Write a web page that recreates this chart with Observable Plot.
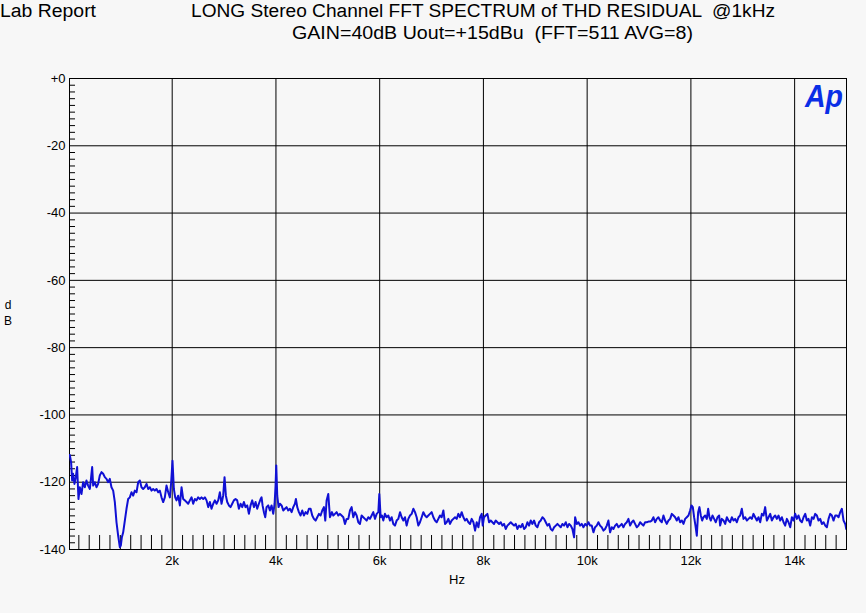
<!DOCTYPE html>
<html>
<head>
<meta charset="utf-8">
<script src="https://cdn.jsdelivr.net/npm/d3@7"></script>
<script src="https://cdn.jsdelivr.net/npm/@observablehq/plot@0.6"></script>
<style>
  html, body { margin: 0; padding: 0; background: #f7f7f7; }
  #chart { position: relative; width: 866px; height: 613px; }
  svg { display: block; }
</style>
</head>
<body>
<div id="chart"></div>
<script>
const titleLeft = "Lab Report";
const titleLine1 = "LONG Stereo Channel FFT SPECTRUM of THD RESIDUAL  @1kHz";
const titleLine2 = "GAIN=40dB Uout=+15dBu  (FFT=511 AVG=8)";
const xLabel = "Hz";
const yLabel = ["d", "B"];
const logoText = "Ap";

const yTicks = [0, -20, -40, -60, -80, -100, -120, -140];
const yTickLabels = ["+0", "-20", "-40", "-60", "-80", "-100", "-120", "-140"];
const xTicks = [2000, 4000, 6000, 8000, 10000, 12000, 14000];
const xTickLabels = ["2k", "4k", "6k", "8k", "10k", "12k", "14k"];

const freqs = [
26,51,71,90,116,141,167,193,219,251,283,315,347,379,412,437,457,476,508,540,572,604,637,669,701,733,765,797,829,862,894,926,958,990,1010,1029,1055,1087,1119,1151,1183,1215,1247,1280,1312,1344,1376,1408,1440,1472,1505,1537,1569,1601,1633,1665,1697,1730,1762,1794,1826,1858,1890,1923,1955,1980,2006,2032,2058,2083,2115,2148,2180,2212,2244,2276,2308,2341,2373,2405,2437,2469,2501,
2533,2565,2598,2630,2662,2694,2726,2758,2791,2823,2855,2887,2919,2951,2983,3009,3035,3061,3093,3125,3157,3189,3221,3253,3286,3318,3350,3382,3414,3446,3479,3511,3543,3575,3607,3639,3671,3704,3723,3742,3768,3794,3819,3851,3884,3916,3948,3974,3993,4006,4025,4051,4077,4109,4141,4173,4205,4237,4269,4302,4334,4366,4385,4411,4443,4475,4507,4539,4572,4604,4636,4668,4700,4732,4765,4797,4829,4861,4893,4925,4951,4977,5009,5041,
5054,5080,5106,5138,5170,5202,5234,5266,5299,5331,5363,5395,5427,5459,5491,5524,5556,5588,5620,5652,5684,5716,5749,5781,5813,5845,5877,5909,5942,5974,5993,6019,6044,6070,6102,6134,6167,6199,6231,6263,6295,6327,6359,6392,6424,6456,6488,6520,6552,6585,6617,6649,6681,6713,6745,6777,6810,6842,6874,6906,6938,6970,7002,7035,7067,7099,7131,7163,7195,7228,7260,7292,7324,7356,7388,7420,7453,7485,7517,7549,
7581,7614,7646,7678,7710,7742,7774,7807,7839,7871,7903,7935,7967,7987,8012,8044,8077,8109,8141,8173,8205,8237,8269,8302,8334,8366,8398,8430,8462,8495,8527,8559,8591,8623,8655,8687,8720,8752,8784,8816,8848,8880,8912,8945,8977,9009,9041,9073,9105,9138,9170,9202,9234,9266,9298,9330,9363,9395,9427,9459,9491,9523,9555,9588,9620,9652,9684,9716,9748,9768,9800,9832,9864,9896,9928,9961,9993,10025,10057,
10088,10121,10153,10185,10217,10249,10281,10314,10346,10378,10410,10442,10474,10506,10539,10571,10603,10635,10667,10699,10731,10764,10796,10828,10860,10892,10924,10957,10989,11021,11053,11085,11117,11149,11182,11214,11246,11278,11310,11342,11374,11407,11439,11471,11503,11535,11567,11600,11632,11664,11696,11728,11760,11792,11825,11857,11889,11921,11953,11985,12011,12037,12062,12088,12114,12140,12165,12191,12217,12243,12275,12307,12333,12358,12384,12416,12448,12480,12513,12545,
12564,12596,12629,12661,12693,12725,12757,12789,12822,12854,12886,12918,12950,12982,13014,13047,13079,13111,13143,13175,13207,13239,13272,13304,13336,13368,13400,13432,13465,13497,13529,13561,13593,13625,13657,13690,13722,13754,13786,13818,13850,13882,13915,13947,13979,14011,14043,14075,14108,14140,14172,14204,14236,14268,14300,14333,14365,14397,14429,14461,14493,14525,14558,14590,14622,14654,14686,14718,14750,14783,14815,14847,14879,14911,14943,14976,14995,15000
];

const levels = [
-111.9,-114.1,-119.5,-117.5,-120.5,-118.5,-115.5,-125.0,-121.5,-123.5,-120.0,-121.5,-119.5,-121.0,-122.0,-118.5,-115.5,-121.0,-120.0,-121.5,-120.5,-118.0,-117.0,-117.5,-118.5,-119.0,-120.0,-119.0,-121.5,-122.5,-125.9,-131.9,-135.9,-139.3,-138.8,-136.4,-134.9,-131.4,-127.9,-125.0,-124.5,-123.0,-124.0,-122.5,-123.0,-120.0,-119.5,-121.5,-122.0,-121.5,-120.5,-122.0,-121.5,-122.5,-122.0,-122.5,-122.0,-123.0,-122.5,-124.5,-125.9,-124.5,-121.0,-123.0,-124.5,-120.0,-113.6,-122.0,-124.5,-125.4,-124.0,-126.9,-121.5,-125.0,-125.4,-125.9,-126.4,-125.4,-124.5,-126.4,-125.0,-125.4,-124.5,
-125.0,-124.5,-125.0,-124.5,-125.4,-127.4,-125.9,-127.9,-126.4,-125.4,-126.4,-125.4,-123.0,-126.4,-124.0,-118.5,-124.0,-125.9,-126.9,-127.4,-126.4,-125.4,-125.0,-125.4,-127.9,-126.4,-127.4,-125.9,-127.4,-126.9,-129.4,-126.9,-125.4,-127.4,-125.9,-127.9,-126.4,-125.0,-124.5,-126.9,-128.9,-130.4,-127.4,-126.9,-128.4,-126.9,-129.4,-126.4,-121.0,-115.0,-124.0,-127.4,-126.4,-126.9,-128.4,-127.9,-127.4,-128.4,-127.9,-128.9,-127.4,-126.4,-125.0,-127.4,-128.9,-129.9,-128.4,-129.9,-128.9,-129.4,-127.9,-127.9,-129.9,-130.9,-131.4,-130.4,-129.4,-129.9,-128.4,-127.4,-131.4,-125.4,-123.5,-130.4,
-129.9,-128.9,-129.9,-129.4,-128.9,-129.9,-129.4,-129.9,-130.4,-132.4,-130.9,-130.9,-128.4,-127.4,-130.4,-128.9,-129.9,-131.9,-132.4,-129.9,-130.4,-130.9,-131.4,-130.4,-130.9,-129.9,-128.9,-130.9,-129.4,-128.9,-123.5,-130.4,-129.9,-131.4,-129.4,-130.4,-129.9,-131.4,-130.4,-132.4,-132.9,-131.4,-130.9,-128.9,-130.4,-131.4,-130.4,-132.9,-130.9,-129.9,-129.4,-127.9,-128.9,-130.4,-132.9,-131.9,-130.4,-128.9,-129.9,-130.4,-129.9,-129.4,-128.9,-130.4,-131.4,-131.9,-130.9,-129.9,-130.4,-128.4,-132.4,-131.9,-130.9,-132.4,-131.4,-130.9,-130.4,-130.9,-129.4,-130.4,
-128.9,-130.4,-131.4,-130.9,-131.9,-132.4,-130.9,-131.9,-134.4,-131.9,-133.4,-130.4,-129.4,-132.9,-130.4,-129.9,-129.4,-131.9,-131.4,-131.9,-132.4,-131.4,-131.9,-132.4,-131.9,-132.9,-132.4,-133.9,-132.9,-132.4,-131.9,-132.4,-132.9,-132.4,-133.9,-132.9,-133.4,-132.4,-133.9,-133.4,-131.9,-132.9,-131.4,-132.4,-131.4,-132.9,-133.4,-131.9,-131.4,-130.4,-130.9,-131.9,-132.9,-132.4,-133.9,-134.4,-133.4,-132.9,-132.4,-132.9,-133.4,-132.4,-132.9,-131.9,-133.4,-132.4,-132.9,-133.9,-136.4,-130.4,-132.4,-131.9,-132.9,-132.4,-133.4,-132.4,-132.9,-131.9,-132.9,
-132.9,-134.9,-133.4,-132.9,-131.9,-132.9,-133.4,-134.4,-133.9,-132.9,-131.4,-134.9,-133.4,-133.9,-132.9,-132.4,-133.4,-132.9,-132.4,-133.4,-132.4,-131.9,-130.9,-132.9,-131.9,-131.4,-132.4,-133.4,-132.9,-131.9,-132.4,-132.9,-131.9,-131.9,-131.7,-131.7,-131.4,-130.4,-131.9,-130.9,-130.4,-131.4,-131.9,-129.9,-131.4,-132.4,-131.4,-130.9,-129.4,-129.9,-130.4,-131.4,-130.4,-131.9,-131.4,-132.4,-130.9,-130.4,-129.9,-128.4,-126.9,-127.4,-130.4,-132.9,-135.9,-128.9,-127.4,-129.9,-131.4,-130.4,-129.9,-130.9,-127.9,-130.4,-131.4,-129.9,-130.9,-131.9,-130.4,-129.9,
-132.9,-130.9,-131.4,-132.4,-130.4,-131.4,-131.9,-130.4,-131.4,-130.9,-131.9,-130.4,-129.9,-127.9,-130.9,-130.4,-131.4,-130.9,-130.4,-130.9,-129.4,-130.4,-131.4,-130.4,-131.9,-129.4,-129.9,-127.4,-131.4,-130.4,-129.4,-131.4,-130.4,-129.9,-130.9,-129.9,-131.4,-130.4,-131.9,-132.9,-130.9,-131.9,-133.4,-130.4,-131.4,-129.4,-130.9,-129.9,-131.4,-131.9,-130.4,-129.4,-131.4,-130.9,-132.9,-130.4,-130.9,-129.4,-129.9,-131.4,-130.9,-132.4,-131.9,-132.9,-133.4,-130.9,-129.4,-129.9,-131.4,-129.9,-129.9,-130.4,-128.9,-127.9,-131.4,-132.4,-133.9,-132.4
];

const spectrum = freqs.map((f, i) => ({f, db: levels[i]}));
const minorX = d3.range(200, 15000, 200).filter(d => d % 2000 !== 0);
const minorY = d3.range(-138, 0, 2).filter(d => d % 20 !== 0);

const W = 866, H = 613;
const mL = 69, mR = 20, mT = 78, mB = 64;
const frameW = W - mL - mR, frameH = H - mT - mB;

const plot = Plot.plot({
  width: W,
  height: H,
  marginLeft: mL,
  marginRight: mR,
  marginTop: mT,
  marginBottom: mB,
  style: {background: "#f7f7f7", fontFamily: "'Liberation Sans', Arial, sans-serif", fontSize: "13px", color: "#000"},
  x: {domain: [20, 15000]},
  y: {domain: [-140, 0]},
  marks: [
    Plot.gridX(xTicks, {stroke: "#000", strokeOpacity: 1, strokeWidth: 1}),
    Plot.gridY(yTicks.slice(1, -1), {stroke: "#000", strokeOpacity: 1, strokeWidth: 1}),
    Plot.tickX(minorX, {x: d => d, insetTop: frameH - 14, stroke: "#000"}),
    Plot.tickY(minorY, {y: d => d, insetRight: frameW - 6, stroke: "#000"}),
    Plot.frame({stroke: "#000", strokeWidth: 1}),
    Plot.line(spectrum, {x: "f", y: "db", stroke: "#1010d4", strokeWidth: 2, clip: true}),
    Plot.axisY({ticks: yTicks, tickFormat: (d) => yTickLabels[yTicks.indexOf(d)], tickSize: 0, tickPadding: 4, label: null, fontSize: 13}),
    Plot.axisX({ticks: xTicks, tickFormat: d => xTickLabels[xTicks.indexOf(d)], tickSize: 0, tickPadding: 6, label: null, fontSize: 13})
  ]
});

document.getElementById("chart").appendChild(plot);

const svg = d3.select(plot);
const fam = "'Liberation Sans', Arial, sans-serif";
function addText(txt, x, y, opts = {}) {
  const t = svg.append("text")
    .attr("x", x).attr("y", y)
    .attr("font-family", fam)
    .attr("font-size", opts.size || 13)
    .attr("fill", opts.fill || "#000")
    .attr("text-anchor", opts.anchor || "start")
    .text(txt);
  if (opts.len) t.attr("textLength", opts.len).attr("lengthAdjust", "spacingAndGlyphs");
  if (opts.weight) t.attr("font-weight", opts.weight);
  if (opts.style) t.attr("font-style", opts.style);
  t.style("white-space", "pre");
  return t;
}
addText(titleLeft, 0, 17, {size: 18, len: 96});
addText(titleLine1, 191, 17, {size: 18, len: 584});
addText(titleLine2, 292, 39, {size: 18, len: 401});
addText(xLabel, 457, 584, {size: 13, anchor: "middle"});
addText(yLabel[0], 8, 309, {size: 12, anchor: "middle"});
addText(yLabel[1], 8, 325, {size: 12, anchor: "middle"});
addText(logoText, 824, 107, {size: 32, anchor: "middle", fill: "#0a2ee6", weight: "bold", style: "italic", len: 38});
</script>
</body>
</html>
